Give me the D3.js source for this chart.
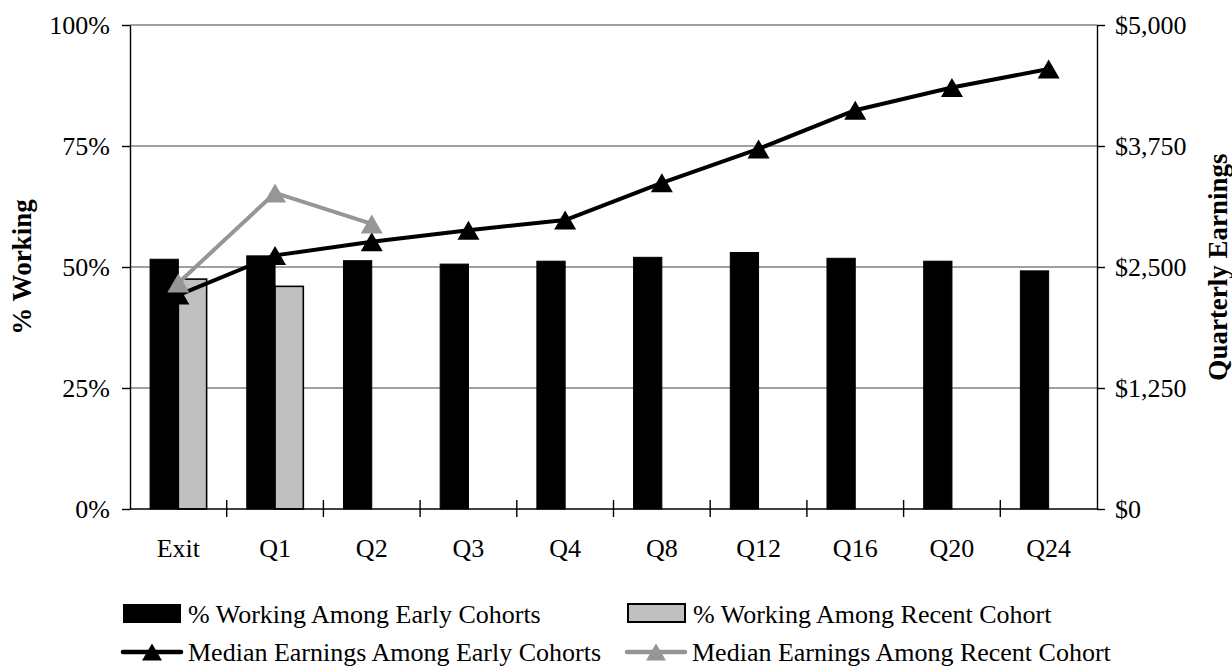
<!DOCTYPE html>
<html>
<head>
<meta charset="utf-8">
<script src="https://cdn.jsdelivr.net/npm/d3@7"></script>
<style>
  html, body { margin: 0; padding: 0; background: #fff; }
  svg { display: block; font-family: "Liberation Serif", "Times New Roman", serif; }
</style>
</head>
<body>
<svg id="chart" width="1232" height="666"></svg>
<script>
// Quarters since exit
const categories = ["Exit", "Q1", "Q2", "Q3", "Q4", "Q8", "Q12", "Q16", "Q20", "Q24"];

// Share working (fraction of cohort)
const workingEarly  = [0.516, 0.523, 0.513, 0.506, 0.512, 0.520, 0.530, 0.518, 0.512, 0.492];
const workingRecent = [0.475, 0.460];

// Median quarterly earnings (dollars)
const earningsEarly  = [2210, 2620, 2760, 2880, 2985, 3370, 3720, 4120, 4355, 4545];
const earningsRecent = [2335, 3265, 2945];

// Axis ticks
const pctTicks = [0, 0.25, 0.5, 0.75, 1];
const dollarTicks = [0, 1250, 2500, 3750, 5000];

const legendItems = [
  "% Working Among Early Cohorts",
  "% Working Among Recent Cohort",
  "Median Earnings Among Early Cohorts",
  "Median Earnings Among Recent Cohort"
];

const svg = d3.select("#chart");
const W = 1232, H = 666;
const plot = { left: 130, right: 1097, top: 25, bottom: 509 };

const BLACK = "#000000";
const BAR_GREY = "#c0c0c0";
const LINE_GREY = "#969696";
const GRID = "#808080";

svg.append("rect").attr("width", W).attr("height", H).attr("fill", "#fff");

const x0 = d3.scaleBand().domain(categories).range([plot.left, plot.right]).paddingInner(0).paddingOuter(0);
const x1 = d3.scaleBand().domain(["early", "recent"]).range([0, x0.bandwidth()]).paddingInner(0).paddingOuter(0.71);
const yL = d3.scaleLinear().domain([0, 1]).range([plot.bottom, plot.top]);
const yR = d3.scaleLinear().domain([0, 5000]).range([plot.bottom, plot.top]);

// Horizontal gridlines
svg.append("g").selectAll("line")
  .data(pctTicks.filter(d => d > 0))
  .join("line")
  .attr("x1", plot.left).attr("x2", plot.right)
  .attr("y1", d => yL(d)).attr("y2", d => yL(d))
  .attr("stroke", GRID).attr("stroke-width", 1.4);

// Bars
const bars = svg.append("g");
bars.selectAll("rect.early")
  .data(workingEarly)
  .join("rect").attr("class", "early")
  .attr("x", (d, i) => x0(categories[i]) + x1("early"))
  .attr("width", x1.bandwidth())
  .attr("y", d => yL(d))
  .attr("height", d => yL(0) - yL(d))
  .attr("fill", BLACK).attr("stroke", BLACK).attr("stroke-width", 1);
bars.selectAll("rect.recent")
  .data(workingRecent)
  .join("rect").attr("class", "recent")
  .attr("x", (d, i) => x0(categories[i]) + x1("recent"))
  .attr("width", x1.bandwidth())
  .attr("y", d => yL(d))
  .attr("height", d => yL(0) - yL(d))
  .attr("fill", BAR_GREY).attr("stroke", BLACK).attr("stroke-width", 1.6);

// Left axis
const leftAxis = d3.axisLeft(yL).tickValues(pctTicks).tickFormat(d3.format(".0%")).tickSizeOuter(0).tickSizeInner(8).tickPadding(12);
const gL = svg.append("g").attr("transform", `translate(${plot.left},0)`).call(leftAxis);
// Right axis
const rightAxis = d3.axisRight(yR).tickValues(dollarTicks).tickFormat(d => "$" + d3.format(",")(d)).tickSizeOuter(0).tickSizeInner(8).tickPadding(10);
const gR = svg.append("g").attr("transform", `translate(${plot.right},0)`).call(rightAxis);

[gL, gR].forEach(g => {
  g.select(".domain").attr("stroke", BLACK).attr("stroke-width", 1.4);
  g.selectAll(".tick line").attr("stroke", BLACK).attr("stroke-width", 1.4);
  g.selectAll(".tick text").attr("font-size", 26).attr("fill", BLACK)
    .attr("font-family", "'Liberation Serif', 'Times New Roman', serif");
});

// Bottom axis with boundary ticks between categories
const gB = svg.append("g");
gB.append("line")
  .attr("x1", plot.left).attr("x2", plot.right)
  .attr("y1", plot.bottom).attr("y2", plot.bottom)
  .attr("stroke", BLACK).attr("stroke-width", 1.4);
const boundaries = categories.map(c => x0(c)).concat([x0(categories[categories.length - 1]) + x0.bandwidth()]);
gB.selectAll("line.tick")
  .data(boundaries.slice(1, -1))
  .join("line").attr("class", "tick")
  .attr("x1", d => d).attr("x2", d => d)
  .attr("y1", plot.bottom - 9).attr("y2", plot.bottom + 8)
  .attr("stroke", BLACK).attr("stroke-width", 1.4);
gB.selectAll("text")
  .data(categories)
  .join("text")
  .attr("x", d => x0(d) + x0.bandwidth() / 2)
  .attr("y", 557)
  .attr("text-anchor", "middle")
  .attr("font-size", 26)
  .attr("fill", BLACK)
  .text(d => d);

// Triangle marker path
const triangle = (w, h) => `M0,${-h / 2}L${w / 2},${h / 2}L${-w / 2},${h / 2}Z`;
const cx = i => x0(categories[i]) + x0.bandwidth() / 2;

// Earnings lines
const line = d3.line().x((d, i) => cx(i)).y(d => yR(d));

svg.append("path").datum(earningsEarly)
  .attr("d", line).attr("fill", "none")
  .attr("stroke", BLACK).attr("stroke-width", 4).attr("stroke-linejoin", "round");
svg.append("g").selectAll("path")
  .data(earningsEarly).join("path")
  .attr("d", triangle(22, 19))
  .attr("transform", (d, i) => `translate(${cx(i)},${yR(d)})`)
  .attr("fill", BLACK);

svg.append("path").datum(earningsRecent)
  .attr("d", line).attr("fill", "none")
  .attr("stroke", LINE_GREY).attr("stroke-width", 4).attr("stroke-linejoin", "round");
svg.append("g").selectAll("path")
  .data(earningsRecent).join("path")
  .attr("d", triangle(22, 19))
  .attr("transform", (d, i) => `translate(${cx(i)},${yR(d)})`)
  .attr("fill", LINE_GREY);

// Axis titles
svg.append("text")
  .attr("transform", `translate(31,${(plot.top + plot.bottom) / 2}) rotate(-90)`)
  .attr("text-anchor", "middle")
  .attr("font-size", 27).attr("font-weight", "bold").attr("fill", BLACK)
  .text("% Working");
svg.append("text")
  .attr("transform", `translate(1227,${(plot.top + plot.bottom) / 2}) rotate(-90)`)
  .attr("text-anchor", "middle")
  .attr("font-size", 27).attr("font-weight", "bold").attr("fill", BLACK)
  .text("Quarterly Earnings");

// Legend
const lg = svg.append("g");
const legendPos = [
  { sx: 123, tx: 188, y: 623 },
  { sx: 628, tx: 693, y: 623 },
  { sx: 123, tx: 188, y: 661 },
  { sx: 627, tx: 692, y: 661 }
];
// bar swatches
lg.append("rect").attr("x", 123).attr("y", 604).attr("width", 58).attr("height", 19).attr("fill", BLACK);
lg.append("rect").attr("x", 628).attr("y", 604).attr("width", 57).attr("height", 18)
  .attr("fill", BAR_GREY).attr("stroke", BLACK).attr("stroke-width", 2);
// line swatches
[[BLACK, 123], [LINE_GREY, 627]].forEach(([c, sx]) => {
  lg.append("line").attr("x1", sx).attr("x2", sx + 58).attr("y1", 652).attr("y2", 652)
    .attr("stroke", c).attr("stroke-width", 4.5).attr("stroke-linecap", "round");
  lg.append("path").attr("d", triangle(20, 17))
    .attr("transform", `translate(${sx + 29},652)`).attr("fill", c);
});
lg.selectAll("text").data(legendItems).join("text")
  .attr("x", (d, i) => legendPos[i].tx)
  .attr("y", (d, i) => legendPos[i].y)
  .attr("font-size", 26).attr("fill", BLACK)
  .text(d => d);
</script>
</body>
</html>
